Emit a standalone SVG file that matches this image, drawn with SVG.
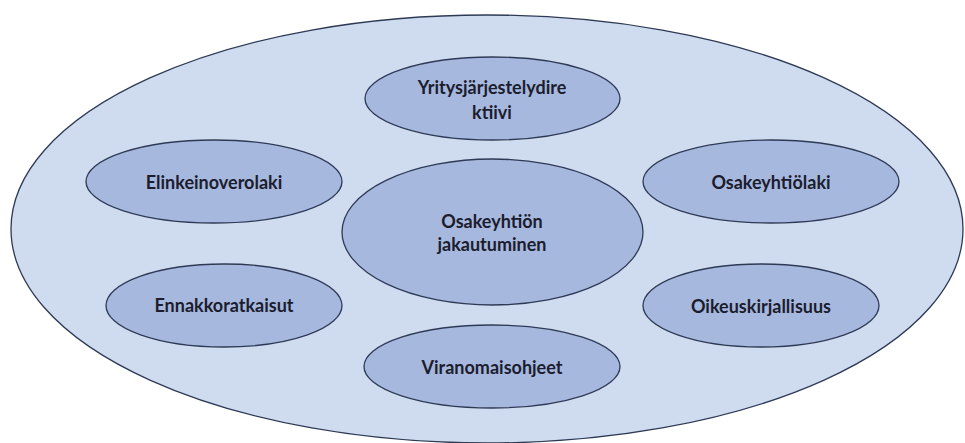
<svg xmlns="http://www.w3.org/2000/svg" width="965" height="443" viewBox="0 0 965 443">
<style>
.outer{fill:#cfdbef;stroke:#2e3a55;stroke-width:1.3}
.node{fill:#a7b8df;stroke:#2e3a55;stroke-width:1.3}
.t{font-family:Lato,"Liberation Sans",sans-serif;font-size:18px;font-weight:700;fill:#1b1d2e;text-anchor:middle;dominant-baseline:central}
</style>
<rect width="965" height="443" fill="#ffffff"/>
<g id="outer"><ellipse class="outer" cx="487" cy="229" rx="476" ry="214"/></g>
<g id="connectors"></g>
<g id="yritys"><ellipse class="node" cx="492.5" cy="98.5" rx="127.5" ry="41.5"/><text class="t" x="492" y="87">Yritysjärjestelydire</text><text class="t" x="492" y="112">ktiivi</text></g>
<g id="elinkeino"><ellipse class="node" cx="214" cy="181.5" rx="128" ry="41.5"/><text class="t" x="214" y="182">Elinkeinoverolaki</text></g>
<g id="center"><ellipse class="node" cx="492.5" cy="232" rx="150.5" ry="73"/><text class="t" x="492" y="221">Osakeyhtiön</text><text class="t" x="492" y="244">jakautuminen</text></g>
<g id="osakeyhtiolaki"><ellipse class="node" cx="771" cy="181.5" rx="128" ry="41.5"/><text class="t" x="771" y="182">Osakeyhtiölaki</text></g>
<g id="ennakko"><ellipse class="node" cx="224" cy="305.5" rx="118" ry="41.5"/><text class="t" x="224" y="305">Ennakkoratkaisut</text></g>
<g id="oikeus"><ellipse class="node" cx="761" cy="305.5" rx="118" ry="41.5"/><text class="t" x="761" y="306">Oikeuskirjallisuus</text></g>
<g id="viranomais"><ellipse class="node" cx="492" cy="366.5" rx="128" ry="41.5"/><text class="t" x="492" y="367">Viranomaisohjeet</text></g>
</svg>
